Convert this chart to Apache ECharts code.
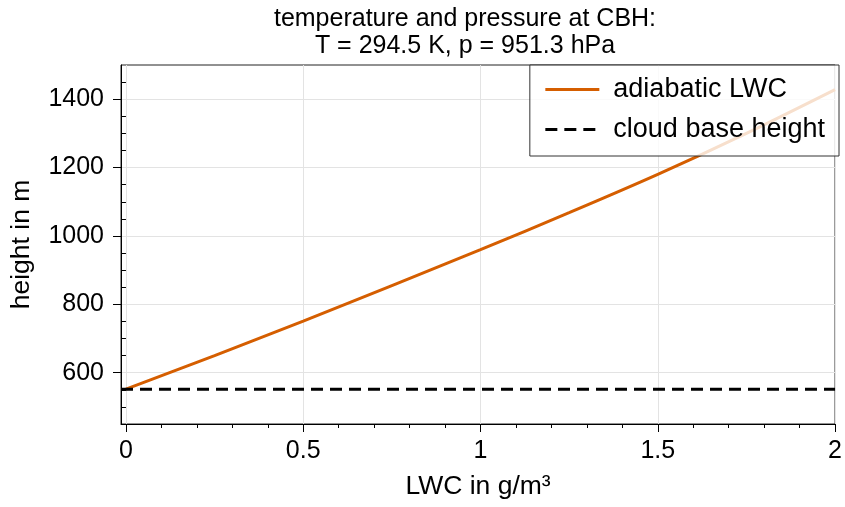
<!DOCTYPE html>
<html>
<head>
<meta charset="utf-8">
<script src="https://cdn.jsdelivr.net/npm/echarts@6/dist/echarts.min.js"></script>
<style>
html,body{margin:0;padding:0;background:#fff;}
#chart{width:845px;height:507px;}
</style>
</head>
<body>
<div id="chart"></div>
<script>
// ---- data ----
const lwc = [0, 0.25, 0.5, 0.75, 1.0, 1.25, 1.5, 1.75, 2.0];
const heightAdiabatic = [552, 650, 751, 855, 960, 1068, 1180, 1300, 1428];
const cloudBaseHeight = 552;
const xRange = [-0.014, 2];
const yRange = [450, 1500];
const xMajorTicks = [0, 0.5, 1, 1.5, 2];
const xMinorTicks = [0.1, 0.2, 0.3, 0.4, 0.6, 0.7, 0.8, 0.9, 1.1, 1.2, 1.3, 1.4, 1.6, 1.7, 1.8, 1.9];
const yMajorTicks = [600, 800, 1000, 1200, 1400];
const yMinorTicks = [500, 550, 650, 700, 750, 850, 900, 950, 1050, 1100, 1150, 1250, 1300, 1350, 1450];
const titleText = 'temperature and pressure at CBH:\nT = 294.5 K, p = 951.3 hPa';
const seriesNames = ['adiabatic LWC', 'cloud base height'];

const FONT = 'Liberation Sans';
const chart = echarts.init(document.getElementById('chart'), null, {renderer: 'canvas'});

const adiabaticData = lwc.map((x, i) => [x, heightAdiabatic[i]]);
const cbhData = [[xRange[0], cloudBaseHeight], [xRange[1], cloudBaseHeight]];

function fmt(v) { return String(v); }

chart.setOption({
  animation: false,
  backgroundColor: '#fff',
  title: {
    text: titleText,
    left: 460, top: 1, textAlign: 'center',
    textStyle: {fontFamily: FONT, fontSize: 25, fontWeight: 'normal', color: '#000', lineHeight: 27}
  },
  grid: {left: 120, right: 6, top: 65, bottom: 83, show: true, borderColor: '#222', borderWidth: 1, backgroundColor: 'transparent'},
  legend: {
    orient: 'vertical', right: 6, top: 65,
    padding: [11, 14, 13, 14], itemGap: 13, itemWidth: 54, itemHeight: 14,
    backgroundColor: 'rgba(255,255,255,0.8)', borderColor: '#333', borderWidth: 1,
    itemStyle: {opacity: 0},
    lineStyle: {width: 3},
    textStyle: {fontFamily: FONT, fontSize: 27, color: '#000', padding: [0, 0, 0, 9]},
    data: seriesNames
  },
  xAxis: [{
    type: 'value', min: xRange[0], max: xRange[1],
    name: 'LWC in g/m³', nameLocation: 'middle', nameGap: 49,
    nameTextStyle: {fontFamily: FONT, fontSize: 26.5, color: '#000'},
    axisLine: {show: true, onZero: false, lineStyle: {color: '#000', width: 1}},
    axisTick: {show: true, customValues: xMajorTicks, length: 8, lineStyle: {color: '#000', width: 1}},
    axisLabel: {customValues: xMajorTicks, formatter: fmt, margin: 15, fontFamily: FONT, fontSize: 25, color: '#000', showMinLabel: true, showMaxLabel: true},
    splitLine: {show: true, lineStyle: {color: '#e3e3e3', width: 1}}
  }, {
    type: 'value', min: xRange[0], max: xRange[1], position: 'bottom',
    axisLine: {show: false},
    axisTick: {show: true, customValues: xMinorTicks, length: 4, lineStyle: {color: '#000', width: 1}},
    axisLabel: {show: false},
    splitLine: {show: false}
  }],
  yAxis: [{
    type: 'value', min: yRange[0], max: yRange[1],
    name: 'height in m', nameLocation: 'middle', nameGap: 86,
    nameTextStyle: {fontFamily: FONT, fontSize: 26.5, color: '#000'},
    axisLine: {show: true, onZero: false, lineStyle: {color: '#000', width: 1}},
    axisTick: {show: true, customValues: yMajorTicks, length: 8, lineStyle: {color: '#000', width: 1}},
    axisLabel: {customValues: yMajorTicks, formatter: fmt, margin: 17, fontFamily: FONT, fontSize: 25, color: '#000'},
    splitLine: {show: true, lineStyle: {color: '#e3e3e3', width: 1}}
  }, {
    type: 'value', min: yRange[0], max: yRange[1], position: 'left', offset: 0,
    axisLine: {show: false},
    axisTick: {show: true, customValues: yMinorTicks, length: 4, lineStyle: {color: '#000', width: 1}},
    axisLabel: {show: false},
    splitLine: {show: false}
  }],
  series: [{
    name: seriesNames[0], type: 'line', data: adiabaticData, smooth: 0.3,
    symbol: 'none', clip: true,
    lineStyle: {color: '#d55e00', width: 3},
    itemStyle: {color: '#d55e00'}, z: 3
  }, {
    name: seriesNames[1], type: 'line', data: cbhData,
    symbol: 'none', clip: true,
    lineStyle: {color: '#000', width: 3, type: [12, 7]},
    itemStyle: {color: '#000'}, z: 3
  }]
});
</script>
</body>
</html>
